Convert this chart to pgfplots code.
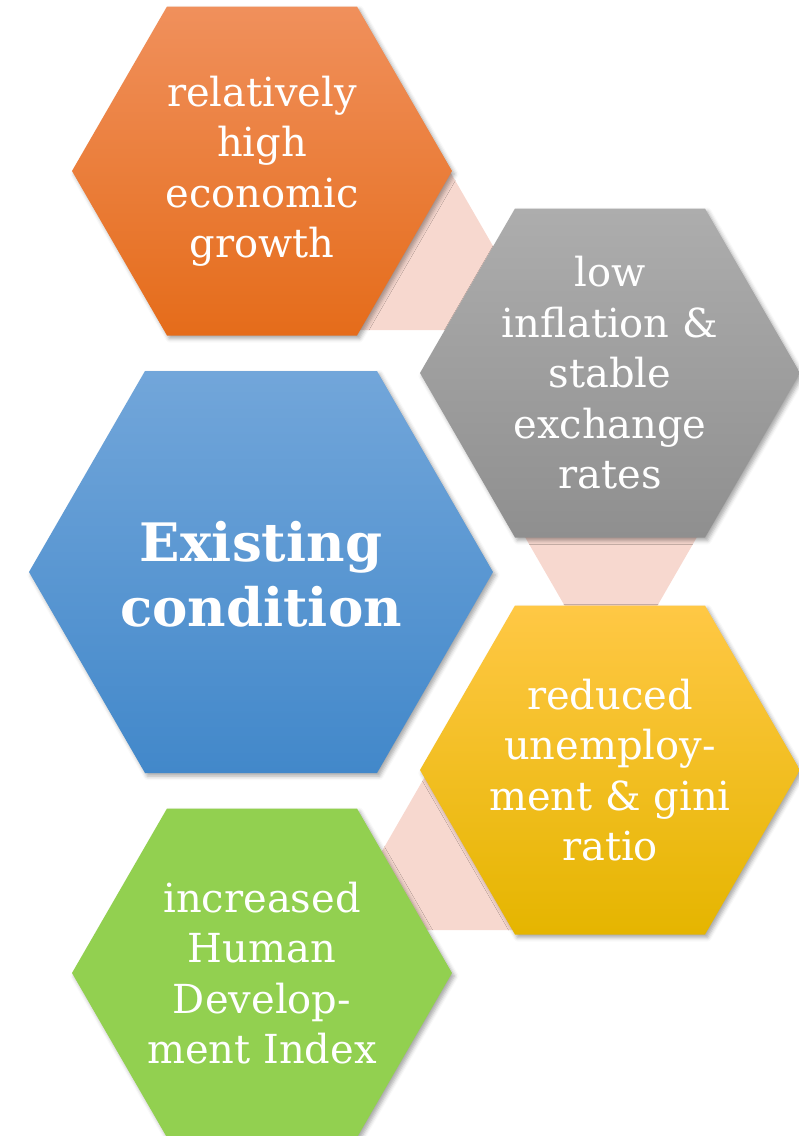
\documentclass[border=0pt]{standalone}
\usepackage{pgfplots}
\pgfplotsset{compat=1.18}
\usepackage{fontspec}
\setmainfont{DejaVu Serif}
\usetikzlibrary{shadows.blur}
\definecolor{pinkband}{HTML}{F7D8CF}
\definecolor{orT}{HTML}{F0905C}
\definecolor{orB}{HTML}{E56C1A}
\definecolor{grT}{HTML}{ADADAD}
\definecolor{grB}{HTML}{8F8F8F}
\definecolor{blT}{HTML}{72A6DA}
\definecolor{blB}{HTML}{4288CA}
\definecolor{yeT}{HTML}{FFC845}
\definecolor{yeB}{HTML}{E5B500}
\definecolor{gnT}{HTML}{92D050}
\definecolor{gnB}{HTML}{92D050}
\tikzset{
  hex/.style={draw=none, blur shadow={shadow xshift=2.5pt, shadow yshift=-3pt, shadow blur radius=4pt, shadow opacity=35}},
  lbl/.style={align=center, text=white, font=\fontsize{40}{50.5}\selectfont}
}
\begin{document}
\begin{tikzpicture}
\begin{axis}[
  width=799pt, height=1136pt, scale only axis,
  xmin=0, xmax=799, ymin=0, ymax=1136, y dir=reverse,
  hide axis, clip=true
]
\path (axis cs:0,0) rectangle (axis cs:799,1136);
% connecting bands
\addplot[draw=none, fill=pinkband] coordinates {(300,140) (431.8,140) (541.5,330) (300,330)} -- cycle;
\addplot[draw=none, fill=pinkband] coordinates {(512.3,515) (709.7,515) (652,615) (570,615)} -- cycle;
\addplot[draw=none, fill=pinkband] coordinates {(434.5,760) (560,760) (560,930) (336.5,930)} -- cycle;
% hexagons
\addplot[hex, top color=orT, bottom color=orB] coordinates {(72,171) (167,6.5) (357,6.5) (452,171) (357,335.5) (167,335.5)} -- cycle;
\addplot[hex, top color=grT, bottom color=grB] coordinates {(420,373) (515,208.5) (705,208.5) (800,373) (705,537.5) (515,537.5)} -- cycle;
\addplot[hex, top color=blT, bottom color=blB] coordinates {(29,572) (145,371) (377,371) (493,572) (377,773) (145,773)} -- cycle;
\addplot[hex, top color=yeT, bottom color=yeB] coordinates {(420,770) (515,605.5) (705,605.5) (800,770) (705,934.5) (515,934.5)} -- cycle;
\addplot[hex, top color=gnT, bottom color=gnB] coordinates {(72,973) (167,808.5) (357,808.5) (452,973) (357,1137.5) (167,1137.5)} -- cycle;
% labels
\node[lbl] at (axis cs:262,171) {relatively\\high\\economic\\growth};
\node[lbl] at (axis cs:610,373) {low\\inflation \&\\stable\\exchange\\rates};
\node[lbl, font=\fontsize{53}{65}\selectfont\bfseries] at (axis cs:261,574) {Existing\\condition};
\node[lbl] at (axis cs:610,770) {reduced\\unemploy-\\ment \& gini\\ratio};
\node[lbl] at (axis cs:262,973) {increased\\Human\\Develop-\\ment Index};
\end{axis}
\end{tikzpicture}
\end{document}
